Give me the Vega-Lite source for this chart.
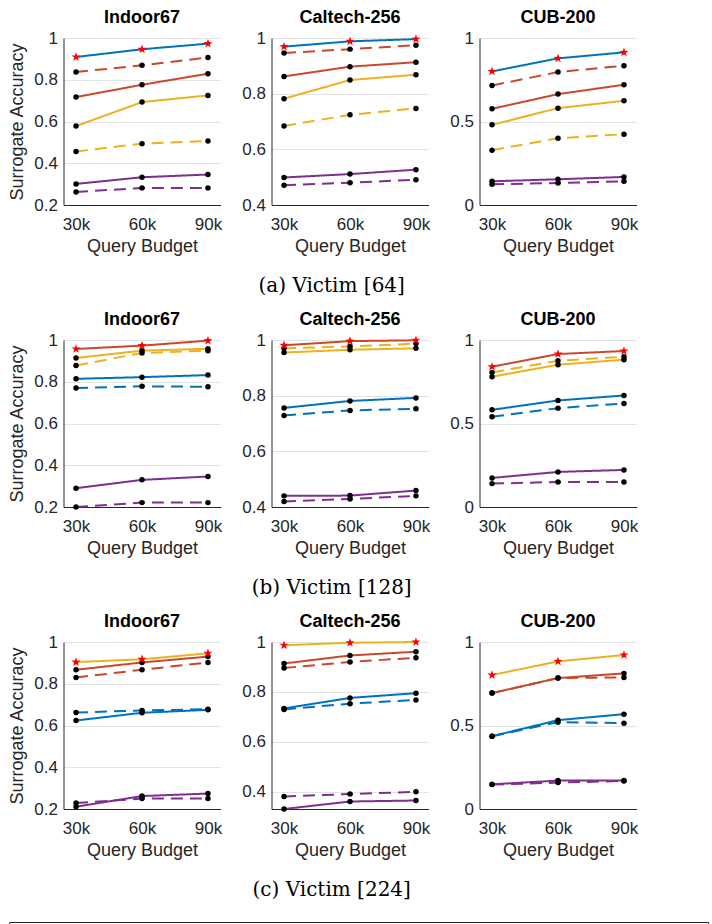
{
  "$schema": "https://vega.github.io/schema/vega-lite/v6.json",
  "background": "white",
  "padding": {"left": 8, "top": 9, "right": 5, "bottom": 0},
  "config": {
    "view": {"stroke": null},
    "font": "Liberation Sans",
    "title": {"font": "Liberation Sans", "fontSize": 18, "fontWeight": "bold", "color": "#000000", "offset": 2, "frame": "group"},
    "axis": {"labelFont": "Liberation Sans", "labelFontSize": 17, "labelColor": "#262626", "titleFont": "Liberation Sans", "titleFontSize": 18, "titleFontWeight": "normal", "titleColor": "#262626", "domainColor": "#262626", "domainWidth": 1, "ticks": false, "gridColor": "#E3E3E3", "gridWidth": 1},
    "axisX": {"grid": false, "labelAngle": 0, "labelPadding": 11, "titlePadding": 5},
    "axisY": {"grid": true, "labelPadding": 6, "titlePadding": 7}
  },
  "datasets": {
    "legendItems": [{"series": "Surrogate [32]"}, {"series": "Surrogate [64]"}, {"series": "Surrogate [128]"}, {"series": "Surrogate [224]"}],
    "acc": [
      {"victim": "64", "dataset": "Indoor67", "series": "Surrogate [64]", "line": "solid", "budget": "30k", "accuracy": 0.909},
      {"victim": "64", "dataset": "Indoor67", "series": "Surrogate [64]", "line": "solid", "budget": "60k", "accuracy": 0.946},
      {"victim": "64", "dataset": "Indoor67", "series": "Surrogate [64]", "line": "solid", "budget": "90k", "accuracy": 0.973},
      {"victim": "64", "dataset": "Indoor67", "series": "Surrogate [128]", "line": "dashed", "budget": "30k", "accuracy": 0.837},
      {"victim": "64", "dataset": "Indoor67", "series": "Surrogate [128]", "line": "dashed", "budget": "60k", "accuracy": 0.869},
      {"victim": "64", "dataset": "Indoor67", "series": "Surrogate [128]", "line": "dashed", "budget": "90k", "accuracy": 0.907},
      {"victim": "64", "dataset": "Indoor67", "series": "Surrogate [128]", "line": "solid", "budget": "30k", "accuracy": 0.717},
      {"victim": "64", "dataset": "Indoor67", "series": "Surrogate [128]", "line": "solid", "budget": "60k", "accuracy": 0.776},
      {"victim": "64", "dataset": "Indoor67", "series": "Surrogate [128]", "line": "solid", "budget": "90k", "accuracy": 0.829},
      {"victim": "64", "dataset": "Indoor67", "series": "Surrogate [224]", "line": "solid", "budget": "30k", "accuracy": 0.578},
      {"victim": "64", "dataset": "Indoor67", "series": "Surrogate [224]", "line": "solid", "budget": "60k", "accuracy": 0.693},
      {"victim": "64", "dataset": "Indoor67", "series": "Surrogate [224]", "line": "solid", "budget": "90k", "accuracy": 0.725},
      {"victim": "64", "dataset": "Indoor67", "series": "Surrogate [224]", "line": "dashed", "budget": "30k", "accuracy": 0.456},
      {"victim": "64", "dataset": "Indoor67", "series": "Surrogate [224]", "line": "dashed", "budget": "60k", "accuracy": 0.494},
      {"victim": "64", "dataset": "Indoor67", "series": "Surrogate [224]", "line": "dashed", "budget": "90k", "accuracy": 0.507},
      {"victim": "64", "dataset": "Indoor67", "series": "Surrogate [32]", "line": "solid", "budget": "30k", "accuracy": 0.301},
      {"victim": "64", "dataset": "Indoor67", "series": "Surrogate [32]", "line": "solid", "budget": "60k", "accuracy": 0.333},
      {"victim": "64", "dataset": "Indoor67", "series": "Surrogate [32]", "line": "solid", "budget": "90k", "accuracy": 0.346},
      {"victim": "64", "dataset": "Indoor67", "series": "Surrogate [32]", "line": "dashed", "budget": "30k", "accuracy": 0.262},
      {"victim": "64", "dataset": "Indoor67", "series": "Surrogate [32]", "line": "dashed", "budget": "60k", "accuracy": 0.282},
      {"victim": "64", "dataset": "Indoor67", "series": "Surrogate [32]", "line": "dashed", "budget": "90k", "accuracy": 0.282},
      {"victim": "64", "dataset": "Caltech-256", "series": "Surrogate [64]", "line": "solid", "budget": "30k", "accuracy": 0.969},
      {"victim": "64", "dataset": "Caltech-256", "series": "Surrogate [64]", "line": "solid", "budget": "60k", "accuracy": 0.988},
      {"victim": "64", "dataset": "Caltech-256", "series": "Surrogate [64]", "line": "solid", "budget": "90k", "accuracy": 0.996},
      {"victim": "64", "dataset": "Caltech-256", "series": "Surrogate [128]", "line": "dashed", "budget": "30k", "accuracy": 0.946},
      {"victim": "64", "dataset": "Caltech-256", "series": "Surrogate [128]", "line": "dashed", "budget": "60k", "accuracy": 0.960},
      {"victim": "64", "dataset": "Caltech-256", "series": "Surrogate [128]", "line": "dashed", "budget": "90k", "accuracy": 0.974},
      {"victim": "64", "dataset": "Caltech-256", "series": "Surrogate [128]", "line": "solid", "budget": "30k", "accuracy": 0.862},
      {"victim": "64", "dataset": "Caltech-256", "series": "Surrogate [128]", "line": "solid", "budget": "60k", "accuracy": 0.897},
      {"victim": "64", "dataset": "Caltech-256", "series": "Surrogate [128]", "line": "solid", "budget": "90k", "accuracy": 0.913},
      {"victim": "64", "dataset": "Caltech-256", "series": "Surrogate [224]", "line": "solid", "budget": "30k", "accuracy": 0.782},
      {"victim": "64", "dataset": "Caltech-256", "series": "Surrogate [224]", "line": "solid", "budget": "60k", "accuracy": 0.849},
      {"victim": "64", "dataset": "Caltech-256", "series": "Surrogate [224]", "line": "solid", "budget": "90k", "accuracy": 0.868},
      {"victim": "64", "dataset": "Caltech-256", "series": "Surrogate [224]", "line": "dashed", "budget": "30k", "accuracy": 0.684},
      {"victim": "64", "dataset": "Caltech-256", "series": "Surrogate [224]", "line": "dashed", "budget": "60k", "accuracy": 0.724},
      {"victim": "64", "dataset": "Caltech-256", "series": "Surrogate [224]", "line": "dashed", "budget": "90k", "accuracy": 0.747},
      {"victim": "64", "dataset": "Caltech-256", "series": "Surrogate [32]", "line": "solid", "budget": "30k", "accuracy": 0.499},
      {"victim": "64", "dataset": "Caltech-256", "series": "Surrogate [32]", "line": "solid", "budget": "60k", "accuracy": 0.511},
      {"victim": "64", "dataset": "Caltech-256", "series": "Surrogate [32]", "line": "solid", "budget": "90k", "accuracy": 0.527},
      {"victim": "64", "dataset": "Caltech-256", "series": "Surrogate [32]", "line": "dashed", "budget": "30k", "accuracy": 0.471},
      {"victim": "64", "dataset": "Caltech-256", "series": "Surrogate [32]", "line": "dashed", "budget": "60k", "accuracy": 0.480},
      {"victim": "64", "dataset": "Caltech-256", "series": "Surrogate [32]", "line": "dashed", "budget": "90k", "accuracy": 0.491},
      {"victim": "64", "dataset": "CUB-200", "series": "Surrogate [64]", "line": "solid", "budget": "30k", "accuracy": 0.800},
      {"victim": "64", "dataset": "CUB-200", "series": "Surrogate [64]", "line": "solid", "budget": "60k", "accuracy": 0.878},
      {"victim": "64", "dataset": "CUB-200", "series": "Surrogate [64]", "line": "solid", "budget": "90k", "accuracy": 0.914},
      {"victim": "64", "dataset": "CUB-200", "series": "Surrogate [128]", "line": "dashed", "budget": "30k", "accuracy": 0.716},
      {"victim": "64", "dataset": "CUB-200", "series": "Surrogate [128]", "line": "dashed", "budget": "60k", "accuracy": 0.796},
      {"victim": "64", "dataset": "CUB-200", "series": "Surrogate [128]", "line": "dashed", "budget": "90k", "accuracy": 0.834},
      {"victim": "64", "dataset": "CUB-200", "series": "Surrogate [128]", "line": "solid", "budget": "30k", "accuracy": 0.576},
      {"victim": "64", "dataset": "CUB-200", "series": "Surrogate [128]", "line": "solid", "budget": "60k", "accuracy": 0.664},
      {"victim": "64", "dataset": "CUB-200", "series": "Surrogate [128]", "line": "solid", "budget": "90k", "accuracy": 0.720},
      {"victim": "64", "dataset": "CUB-200", "series": "Surrogate [224]", "line": "solid", "budget": "30k", "accuracy": 0.480},
      {"victim": "64", "dataset": "CUB-200", "series": "Surrogate [224]", "line": "solid", "budget": "60k", "accuracy": 0.580},
      {"victim": "64", "dataset": "CUB-200", "series": "Surrogate [224]", "line": "solid", "budget": "90k", "accuracy": 0.624},
      {"victim": "64", "dataset": "CUB-200", "series": "Surrogate [224]", "line": "dashed", "budget": "30k", "accuracy": 0.328},
      {"victim": "64", "dataset": "CUB-200", "series": "Surrogate [224]", "line": "dashed", "budget": "60k", "accuracy": 0.400},
      {"victim": "64", "dataset": "CUB-200", "series": "Surrogate [224]", "line": "dashed", "budget": "90k", "accuracy": 0.424},
      {"victim": "64", "dataset": "CUB-200", "series": "Surrogate [32]", "line": "solid", "budget": "30k", "accuracy": 0.142},
      {"victim": "64", "dataset": "CUB-200", "series": "Surrogate [32]", "line": "solid", "budget": "60k", "accuracy": 0.154},
      {"victim": "64", "dataset": "CUB-200", "series": "Surrogate [32]", "line": "solid", "budget": "90k", "accuracy": 0.168},
      {"victim": "64", "dataset": "CUB-200", "series": "Surrogate [32]", "line": "dashed", "budget": "30k", "accuracy": 0.124},
      {"victim": "64", "dataset": "CUB-200", "series": "Surrogate [32]", "line": "dashed", "budget": "60k", "accuracy": 0.132},
      {"victim": "64", "dataset": "CUB-200", "series": "Surrogate [32]", "line": "dashed", "budget": "90k", "accuracy": 0.142},
      {"victim": "128", "dataset": "Indoor67", "series": "Surrogate [128]", "line": "solid", "budget": "30k", "accuracy": 0.957},
      {"victim": "128", "dataset": "Indoor67", "series": "Surrogate [128]", "line": "solid", "budget": "60k", "accuracy": 0.973},
      {"victim": "128", "dataset": "Indoor67", "series": "Surrogate [128]", "line": "solid", "budget": "90k", "accuracy": 0.997},
      {"victim": "128", "dataset": "Indoor67", "series": "Surrogate [224]", "line": "solid", "budget": "30k", "accuracy": 0.914},
      {"victim": "128", "dataset": "Indoor67", "series": "Surrogate [224]", "line": "solid", "budget": "60k", "accuracy": 0.949},
      {"victim": "128", "dataset": "Indoor67", "series": "Surrogate [224]", "line": "solid", "budget": "90k", "accuracy": 0.958},
      {"victim": "128", "dataset": "Indoor67", "series": "Surrogate [224]", "line": "dashed", "budget": "30k", "accuracy": 0.878},
      {"victim": "128", "dataset": "Indoor67", "series": "Surrogate [224]", "line": "dashed", "budget": "60k", "accuracy": 0.938},
      {"victim": "128", "dataset": "Indoor67", "series": "Surrogate [224]", "line": "dashed", "budget": "90k", "accuracy": 0.949},
      {"victim": "128", "dataset": "Indoor67", "series": "Surrogate [64]", "line": "solid", "budget": "30k", "accuracy": 0.814},
      {"victim": "128", "dataset": "Indoor67", "series": "Surrogate [64]", "line": "solid", "budget": "60k", "accuracy": 0.822},
      {"victim": "128", "dataset": "Indoor67", "series": "Surrogate [64]", "line": "solid", "budget": "90k", "accuracy": 0.832},
      {"victim": "128", "dataset": "Indoor67", "series": "Surrogate [64]", "line": "dashed", "budget": "30k", "accuracy": 0.770},
      {"victim": "128", "dataset": "Indoor67", "series": "Surrogate [64]", "line": "dashed", "budget": "60k", "accuracy": 0.778},
      {"victim": "128", "dataset": "Indoor67", "series": "Surrogate [64]", "line": "dashed", "budget": "90k", "accuracy": 0.776},
      {"victim": "128", "dataset": "Indoor67", "series": "Surrogate [32]", "line": "solid", "budget": "30k", "accuracy": 0.290},
      {"victim": "128", "dataset": "Indoor67", "series": "Surrogate [32]", "line": "solid", "budget": "60k", "accuracy": 0.330},
      {"victim": "128", "dataset": "Indoor67", "series": "Surrogate [32]", "line": "solid", "budget": "90k", "accuracy": 0.346},
      {"victim": "128", "dataset": "Indoor67", "series": "Surrogate [32]", "line": "dashed", "budget": "30k", "accuracy": 0.200},
      {"victim": "128", "dataset": "Indoor67", "series": "Surrogate [32]", "line": "dashed", "budget": "60k", "accuracy": 0.221},
      {"victim": "128", "dataset": "Indoor67", "series": "Surrogate [32]", "line": "dashed", "budget": "90k", "accuracy": 0.221},
      {"victim": "128", "dataset": "Caltech-256", "series": "Surrogate [128]", "line": "solid", "budget": "30k", "accuracy": 0.981},
      {"victim": "128", "dataset": "Caltech-256", "series": "Surrogate [128]", "line": "solid", "budget": "60k", "accuracy": 0.996},
      {"victim": "128", "dataset": "Caltech-256", "series": "Surrogate [128]", "line": "solid", "budget": "90k", "accuracy": 0.999},
      {"victim": "128", "dataset": "Caltech-256", "series": "Surrogate [224]", "line": "dashed", "budget": "30k", "accuracy": 0.970},
      {"victim": "128", "dataset": "Caltech-256", "series": "Surrogate [224]", "line": "dashed", "budget": "60k", "accuracy": 0.977},
      {"victim": "128", "dataset": "Caltech-256", "series": "Surrogate [224]", "line": "dashed", "budget": "90k", "accuracy": 0.987},
      {"victim": "128", "dataset": "Caltech-256", "series": "Surrogate [224]", "line": "solid", "budget": "30k", "accuracy": 0.955},
      {"victim": "128", "dataset": "Caltech-256", "series": "Surrogate [224]", "line": "solid", "budget": "60k", "accuracy": 0.965},
      {"victim": "128", "dataset": "Caltech-256", "series": "Surrogate [224]", "line": "solid", "budget": "90k", "accuracy": 0.970},
      {"victim": "128", "dataset": "Caltech-256", "series": "Surrogate [64]", "line": "solid", "budget": "30k", "accuracy": 0.756},
      {"victim": "128", "dataset": "Caltech-256", "series": "Surrogate [64]", "line": "solid", "budget": "60k", "accuracy": 0.781},
      {"victim": "128", "dataset": "Caltech-256", "series": "Surrogate [64]", "line": "solid", "budget": "90k", "accuracy": 0.792},
      {"victim": "128", "dataset": "Caltech-256", "series": "Surrogate [64]", "line": "dashed", "budget": "30k", "accuracy": 0.729},
      {"victim": "128", "dataset": "Caltech-256", "series": "Surrogate [64]", "line": "dashed", "budget": "60k", "accuracy": 0.747},
      {"victim": "128", "dataset": "Caltech-256", "series": "Surrogate [64]", "line": "dashed", "budget": "90k", "accuracy": 0.753},
      {"victim": "128", "dataset": "Caltech-256", "series": "Surrogate [32]", "line": "solid", "budget": "30k", "accuracy": 0.440},
      {"victim": "128", "dataset": "Caltech-256", "series": "Surrogate [32]", "line": "solid", "budget": "60k", "accuracy": 0.441},
      {"victim": "128", "dataset": "Caltech-256", "series": "Surrogate [32]", "line": "solid", "budget": "90k", "accuracy": 0.459},
      {"victim": "128", "dataset": "Caltech-256", "series": "Surrogate [32]", "line": "dashed", "budget": "30k", "accuracy": 0.420},
      {"victim": "128", "dataset": "Caltech-256", "series": "Surrogate [32]", "line": "dashed", "budget": "60k", "accuracy": 0.429},
      {"victim": "128", "dataset": "Caltech-256", "series": "Surrogate [32]", "line": "dashed", "budget": "90k", "accuracy": 0.440},
      {"victim": "128", "dataset": "CUB-200", "series": "Surrogate [128]", "line": "solid", "budget": "30k", "accuracy": 0.840},
      {"victim": "128", "dataset": "CUB-200", "series": "Surrogate [128]", "line": "solid", "budget": "60k", "accuracy": 0.916},
      {"victim": "128", "dataset": "CUB-200", "series": "Surrogate [128]", "line": "solid", "budget": "90k", "accuracy": 0.934},
      {"victim": "128", "dataset": "CUB-200", "series": "Surrogate [224]", "line": "dashed", "budget": "30k", "accuracy": 0.806},
      {"victim": "128", "dataset": "CUB-200", "series": "Surrogate [224]", "line": "dashed", "budget": "60k", "accuracy": 0.876},
      {"victim": "128", "dataset": "CUB-200", "series": "Surrogate [224]", "line": "dashed", "budget": "90k", "accuracy": 0.900},
      {"victim": "128", "dataset": "CUB-200", "series": "Surrogate [224]", "line": "solid", "budget": "30k", "accuracy": 0.780},
      {"victim": "128", "dataset": "CUB-200", "series": "Surrogate [224]", "line": "solid", "budget": "60k", "accuracy": 0.852},
      {"victim": "128", "dataset": "CUB-200", "series": "Surrogate [224]", "line": "solid", "budget": "90k", "accuracy": 0.882},
      {"victim": "128", "dataset": "CUB-200", "series": "Surrogate [64]", "line": "solid", "budget": "30k", "accuracy": 0.582},
      {"victim": "128", "dataset": "CUB-200", "series": "Surrogate [64]", "line": "solid", "budget": "60k", "accuracy": 0.638},
      {"victim": "128", "dataset": "CUB-200", "series": "Surrogate [64]", "line": "solid", "budget": "90k", "accuracy": 0.668},
      {"victim": "128", "dataset": "CUB-200", "series": "Surrogate [64]", "line": "dashed", "budget": "30k", "accuracy": 0.540},
      {"victim": "128", "dataset": "CUB-200", "series": "Surrogate [64]", "line": "dashed", "budget": "60k", "accuracy": 0.592},
      {"victim": "128", "dataset": "CUB-200", "series": "Surrogate [64]", "line": "dashed", "budget": "90k", "accuracy": 0.620},
      {"victim": "128", "dataset": "CUB-200", "series": "Surrogate [32]", "line": "solid", "budget": "30k", "accuracy": 0.174},
      {"victim": "128", "dataset": "CUB-200", "series": "Surrogate [32]", "line": "solid", "budget": "60k", "accuracy": 0.210},
      {"victim": "128", "dataset": "CUB-200", "series": "Surrogate [32]", "line": "solid", "budget": "90k", "accuracy": 0.222},
      {"victim": "128", "dataset": "CUB-200", "series": "Surrogate [32]", "line": "dashed", "budget": "30k", "accuracy": 0.140},
      {"victim": "128", "dataset": "CUB-200", "series": "Surrogate [32]", "line": "dashed", "budget": "60k", "accuracy": 0.150},
      {"victim": "128", "dataset": "CUB-200", "series": "Surrogate [32]", "line": "dashed", "budget": "90k", "accuracy": 0.150},
      {"victim": "224", "dataset": "Indoor67", "series": "Surrogate [224]", "line": "solid", "budget": "30k", "accuracy": 0.904},
      {"victim": "224", "dataset": "Indoor67", "series": "Surrogate [224]", "line": "solid", "budget": "60k", "accuracy": 0.917},
      {"victim": "224", "dataset": "Indoor67", "series": "Surrogate [224]", "line": "solid", "budget": "90k", "accuracy": 0.946},
      {"victim": "224", "dataset": "Indoor67", "series": "Surrogate [128]", "line": "solid", "budget": "30k", "accuracy": 0.867},
      {"victim": "224", "dataset": "Indoor67", "series": "Surrogate [128]", "line": "solid", "budget": "60k", "accuracy": 0.902},
      {"victim": "224", "dataset": "Indoor67", "series": "Surrogate [128]", "line": "solid", "budget": "90k", "accuracy": 0.930},
      {"victim": "224", "dataset": "Indoor67", "series": "Surrogate [128]", "line": "dashed", "budget": "30k", "accuracy": 0.830},
      {"victim": "224", "dataset": "Indoor67", "series": "Surrogate [128]", "line": "dashed", "budget": "60k", "accuracy": 0.867},
      {"victim": "224", "dataset": "Indoor67", "series": "Surrogate [128]", "line": "dashed", "budget": "90k", "accuracy": 0.902},
      {"victim": "224", "dataset": "Indoor67", "series": "Surrogate [64]", "line": "dashed", "budget": "30k", "accuracy": 0.662},
      {"victim": "224", "dataset": "Indoor67", "series": "Surrogate [64]", "line": "dashed", "budget": "60k", "accuracy": 0.672},
      {"victim": "224", "dataset": "Indoor67", "series": "Surrogate [64]", "line": "dashed", "budget": "90k", "accuracy": 0.678},
      {"victim": "224", "dataset": "Indoor67", "series": "Surrogate [64]", "line": "solid", "budget": "30k", "accuracy": 0.624},
      {"victim": "224", "dataset": "Indoor67", "series": "Surrogate [64]", "line": "solid", "budget": "60k", "accuracy": 0.661},
      {"victim": "224", "dataset": "Indoor67", "series": "Surrogate [64]", "line": "solid", "budget": "90k", "accuracy": 0.675},
      {"victim": "224", "dataset": "Indoor67", "series": "Surrogate [32]", "line": "solid", "budget": "30k", "accuracy": 0.211},
      {"victim": "224", "dataset": "Indoor67", "series": "Surrogate [32]", "line": "solid", "budget": "60k", "accuracy": 0.262},
      {"victim": "224", "dataset": "Indoor67", "series": "Surrogate [32]", "line": "solid", "budget": "90k", "accuracy": 0.274},
      {"victim": "224", "dataset": "Indoor67", "series": "Surrogate [32]", "line": "dashed", "budget": "30k", "accuracy": 0.229},
      {"victim": "224", "dataset": "Indoor67", "series": "Surrogate [32]", "line": "dashed", "budget": "60k", "accuracy": 0.250},
      {"victim": "224", "dataset": "Indoor67", "series": "Surrogate [32]", "line": "dashed", "budget": "90k", "accuracy": 0.250},
      {"victim": "224", "dataset": "Caltech-256", "series": "Surrogate [224]", "line": "solid", "budget": "30k", "accuracy": 0.987},
      {"victim": "224", "dataset": "Caltech-256", "series": "Surrogate [224]", "line": "solid", "budget": "60k", "accuracy": 0.997},
      {"victim": "224", "dataset": "Caltech-256", "series": "Surrogate [224]", "line": "solid", "budget": "90k", "accuracy": 1.0},
      {"victim": "224", "dataset": "Caltech-256", "series": "Surrogate [128]", "line": "solid", "budget": "30k", "accuracy": 0.914},
      {"victim": "224", "dataset": "Caltech-256", "series": "Surrogate [128]", "line": "solid", "budget": "60k", "accuracy": 0.946},
      {"victim": "224", "dataset": "Caltech-256", "series": "Surrogate [128]", "line": "solid", "budget": "90k", "accuracy": 0.961},
      {"victim": "224", "dataset": "Caltech-256", "series": "Surrogate [128]", "line": "dashed", "budget": "30k", "accuracy": 0.896},
      {"victim": "224", "dataset": "Caltech-256", "series": "Surrogate [128]", "line": "dashed", "budget": "60k", "accuracy": 0.920},
      {"victim": "224", "dataset": "Caltech-256", "series": "Surrogate [128]", "line": "dashed", "budget": "90k", "accuracy": 0.937},
      {"victim": "224", "dataset": "Caltech-256", "series": "Surrogate [64]", "line": "solid", "budget": "30k", "accuracy": 0.734},
      {"victim": "224", "dataset": "Caltech-256", "series": "Surrogate [64]", "line": "solid", "budget": "60k", "accuracy": 0.776},
      {"victim": "224", "dataset": "Caltech-256", "series": "Surrogate [64]", "line": "solid", "budget": "90k", "accuracy": 0.795},
      {"victim": "224", "dataset": "Caltech-256", "series": "Surrogate [64]", "line": "dashed", "budget": "30k", "accuracy": 0.730},
      {"victim": "224", "dataset": "Caltech-256", "series": "Surrogate [64]", "line": "dashed", "budget": "60k", "accuracy": 0.753},
      {"victim": "224", "dataset": "Caltech-256", "series": "Surrogate [64]", "line": "dashed", "budget": "90k", "accuracy": 0.768},
      {"victim": "224", "dataset": "Caltech-256", "series": "Surrogate [32]", "line": "dashed", "budget": "30k", "accuracy": 0.381},
      {"victim": "224", "dataset": "Caltech-256", "series": "Surrogate [32]", "line": "dashed", "budget": "60k", "accuracy": 0.391},
      {"victim": "224", "dataset": "Caltech-256", "series": "Surrogate [32]", "line": "dashed", "budget": "90k", "accuracy": 0.400},
      {"victim": "224", "dataset": "Caltech-256", "series": "Surrogate [32]", "line": "solid", "budget": "30k", "accuracy": 0.331},
      {"victim": "224", "dataset": "Caltech-256", "series": "Surrogate [32]", "line": "solid", "budget": "60k", "accuracy": 0.361},
      {"victim": "224", "dataset": "Caltech-256", "series": "Surrogate [32]", "line": "solid", "budget": "90k", "accuracy": 0.365},
      {"victim": "224", "dataset": "CUB-200", "series": "Surrogate [224]", "line": "solid", "budget": "30k", "accuracy": 0.802},
      {"victim": "224", "dataset": "CUB-200", "series": "Surrogate [224]", "line": "solid", "budget": "60k", "accuracy": 0.884},
      {"victim": "224", "dataset": "CUB-200", "series": "Surrogate [224]", "line": "solid", "budget": "90k", "accuracy": 0.922},
      {"victim": "224", "dataset": "CUB-200", "series": "Surrogate [128]", "line": "solid", "budget": "30k", "accuracy": 0.694},
      {"victim": "224", "dataset": "CUB-200", "series": "Surrogate [128]", "line": "solid", "budget": "60k", "accuracy": 0.784},
      {"victim": "224", "dataset": "CUB-200", "series": "Surrogate [128]", "line": "solid", "budget": "90k", "accuracy": 0.812},
      {"victim": "224", "dataset": "CUB-200", "series": "Surrogate [128]", "line": "dashed", "budget": "30k", "accuracy": 0.694},
      {"victim": "224", "dataset": "CUB-200", "series": "Surrogate [128]", "line": "dashed", "budget": "60k", "accuracy": 0.784},
      {"victim": "224", "dataset": "CUB-200", "series": "Surrogate [128]", "line": "dashed", "budget": "90k", "accuracy": 0.788},
      {"victim": "224", "dataset": "CUB-200", "series": "Surrogate [64]", "line": "solid", "budget": "30k", "accuracy": 0.436},
      {"victim": "224", "dataset": "CUB-200", "series": "Surrogate [64]", "line": "solid", "budget": "60k", "accuracy": 0.532},
      {"victim": "224", "dataset": "CUB-200", "series": "Surrogate [64]", "line": "solid", "budget": "90k", "accuracy": 0.568},
      {"victim": "224", "dataset": "CUB-200", "series": "Surrogate [64]", "line": "dashed", "budget": "30k", "accuracy": 0.436},
      {"victim": "224", "dataset": "CUB-200", "series": "Surrogate [64]", "line": "dashed", "budget": "60k", "accuracy": 0.520},
      {"victim": "224", "dataset": "CUB-200", "series": "Surrogate [64]", "line": "dashed", "budget": "90k", "accuracy": 0.514},
      {"victim": "224", "dataset": "CUB-200", "series": "Surrogate [32]", "line": "solid", "budget": "30k", "accuracy": 0.148},
      {"victim": "224", "dataset": "CUB-200", "series": "Surrogate [32]", "line": "solid", "budget": "60k", "accuracy": 0.170},
      {"victim": "224", "dataset": "CUB-200", "series": "Surrogate [32]", "line": "solid", "budget": "90k", "accuracy": 0.170},
      {"victim": "224", "dataset": "CUB-200", "series": "Surrogate [32]", "line": "dashed", "budget": "30k", "accuracy": 0.146},
      {"victim": "224", "dataset": "CUB-200", "series": "Surrogate [32]", "line": "dashed", "budget": "60k", "accuracy": 0.158},
      {"victim": "224", "dataset": "CUB-200", "series": "Surrogate [32]", "line": "dashed", "budget": "90k", "accuracy": 0.168}
    ]
  },
  "vconcat": [
    {
      "title": {"text": "(a) Victim [64]", "orient": "bottom", "anchor": "middle", "frame": "bounds", "font": "DejaVu Serif", "fontSize": 20, "fontWeight": "normal", "color": "#000000", "offset": 21},
      "spacing": 19,
      "hconcat": [
        {"width": 157, "height": 167, "title": "Indoor67", "data": {"name": "acc"},
         "transform": [{"filter": "datum.victim=='64' && datum.dataset=='Indoor67'"}],
         "encoding": {
           "x": {"field": "budget", "type": "ordinal", "scale": {"type": "point", "padding": 0.19}, "axis": {"title": "Query Budget"}},
           "y": {"field": "accuracy", "type": "quantitative", "scale": {"domain": [0.2, 1], "nice": false, "zero": false}, "axis": {"values": [0.2, 0.4, 0.6, 0.8, 1], "format": "~g", "title": "Surrogate Accuracy"}}},
         "layer": [
           {"mark": {"type": "line", "strokeWidth": 2}, "encoding": {"color": {"field": "series", "type": "nominal", "scale": {"domain": ["Surrogate [32]", "Surrogate [64]", "Surrogate [128]", "Surrogate [224]"], "range": ["#7E2F8E", "#0072BD", "#C9482C", "#EDB120"]}, "legend": null}, "strokeDash": {"field": "line", "type": "nominal", "scale": {"domain": ["solid", "dashed"], "range": [[1, 0], [12, 7]]}, "legend": null}}},
           {"transform": [{"filter": "datum.series!='Surrogate [64]'"}], "mark": {"type": "point", "shape": "circle", "filled": true, "color": "#000000", "size": 30, "opacity": 1}, "encoding": {}},
           {"transform": [{"filter": "datum.series=='Surrogate [64]'"}], "mark": {"type": "point", "shape": "M0,-1L0.235,-0.324L0.951,-0.309L0.38,0.124L0.588,0.809L0,0.4L-0.588,0.809L-0.38,0.124L-0.951,-0.309L-0.235,-0.324Z", "filled": true, "color": "#FF0000", "size": 90, "opacity": 1}, "encoding": {}}
         ]},
        {"width": 157, "height": 167, "title": "Caltech-256", "data": {"name": "acc"},
         "transform": [{"filter": "datum.victim=='64' && datum.dataset=='Caltech-256'"}],
         "encoding": {
           "x": {"field": "budget", "type": "ordinal", "scale": {"type": "point", "padding": 0.19}, "axis": {"title": "Query Budget"}},
           "y": {"field": "accuracy", "type": "quantitative", "scale": {"domain": [0.4, 1], "nice": false, "zero": false}, "axis": {"values": [0.4, 0.6, 0.8, 1], "format": "~g", "title": null}}},
         "layer": [
           {"mark": {"type": "line", "strokeWidth": 2}, "encoding": {"color": {"field": "series", "type": "nominal", "scale": {"domain": ["Surrogate [32]", "Surrogate [64]", "Surrogate [128]", "Surrogate [224]"], "range": ["#7E2F8E", "#0072BD", "#C9482C", "#EDB120"]}, "legend": null}, "strokeDash": {"field": "line", "type": "nominal", "scale": {"domain": ["solid", "dashed"], "range": [[1, 0], [12, 7]]}, "legend": null}}},
           {"transform": [{"filter": "datum.series!='Surrogate [64]'"}], "mark": {"type": "point", "shape": "circle", "filled": true, "color": "#000000", "size": 30, "opacity": 1}, "encoding": {}},
           {"transform": [{"filter": "datum.series=='Surrogate [64]'"}], "mark": {"type": "point", "shape": "M0,-1L0.235,-0.324L0.951,-0.309L0.38,0.124L0.588,0.809L0,0.4L-0.588,0.809L-0.38,0.124L-0.951,-0.309L-0.235,-0.324Z", "filled": true, "color": "#FF0000", "size": 90, "opacity": 1}, "encoding": {}}
         ]},
        {"width": 157, "height": 167, "title": "CUB-200", "data": {"name": "acc"},
         "transform": [{"filter": "datum.victim=='64' && datum.dataset=='CUB-200'"}],
         "encoding": {
           "x": {"field": "budget", "type": "ordinal", "scale": {"type": "point", "padding": 0.19}, "axis": {"title": "Query Budget"}}},
         "resolve": {"axis": {"y": "independent"}},
         "layer": [
           {"mark": {"type": "line", "strokeWidth": 2}, "encoding": {
             "y": {"field": "accuracy", "type": "quantitative", "scale": {"domain": [0, 1], "nice": false, "zero": false}, "axis": {"values": [0, 0.5, 1], "format": "~g", "title": null}},
             "color": {"field": "series", "type": "nominal", "scale": {"domain": ["Surrogate [32]", "Surrogate [64]", "Surrogate [128]", "Surrogate [224]"], "range": ["#7E2F8E", "#0072BD", "#C9482C", "#EDB120"]}, "legend": null}, "strokeDash": {"field": "line", "type": "nominal", "scale": {"domain": ["solid", "dashed"], "range": [[1, 0], [12, 7]]}, "legend": null}}},
           {"transform": [{"filter": "datum.series!='Surrogate [64]'"}], "mark": {"type": "point", "shape": "circle", "filled": true, "color": "#000000", "size": 30, "opacity": 1},
            "encoding": {"y": {"field": "accuracy", "type": "quantitative", "scale": {"domain": [0, 1], "nice": false, "zero": false}, "axis": null}}},
           {"transform": [{"filter": "datum.series=='Surrogate [64]'"}], "mark": {"type": "point", "shape": "M0,-1L0.235,-0.324L0.951,-0.309L0.38,0.124L0.588,0.809L0,0.4L-0.588,0.809L-0.38,0.124L-0.951,-0.309L-0.235,-0.324Z", "filled": true, "color": "#FF0000", "size": 90, "opacity": 1},
            "encoding": {"y": {"field": "accuracy", "type": "quantitative", "scale": {"domain": [0, 1], "nice": false, "zero": false}, "axis": {"orient": "right", "labels": false, "domain": false, "grid": false, "ticks": true, "tickSize": 18, "tickOpacity": 0, "title": null}}}}
         ]}
      ]
    },
    {
      "title": {"text": "(b) Victim [128]", "orient": "bottom", "anchor": "middle", "frame": "bounds", "font": "DejaVu Serif", "fontSize": 20, "fontWeight": "normal", "color": "#000000", "offset": 21},
      "spacing": 19,
      "hconcat": [
        {"width": 157, "height": 167, "title": "Indoor67", "data": {"name": "acc"},
         "transform": [{"filter": "datum.victim=='128' && datum.dataset=='Indoor67'"}],
         "encoding": {
           "x": {"field": "budget", "type": "ordinal", "scale": {"type": "point", "padding": 0.19}, "axis": {"title": "Query Budget"}},
           "y": {"field": "accuracy", "type": "quantitative", "scale": {"domain": [0.2, 1], "nice": false, "zero": false}, "axis": {"values": [0.2, 0.4, 0.6, 0.8, 1], "format": "~g", "title": "Surrogate Accuracy"}}},
         "layer": [
           {"mark": {"type": "line", "strokeWidth": 2}, "encoding": {"color": {"field": "series", "type": "nominal", "scale": {"domain": ["Surrogate [32]", "Surrogate [64]", "Surrogate [128]", "Surrogate [224]"], "range": ["#7E2F8E", "#0072BD", "#C9482C", "#EDB120"]}, "legend": null}, "strokeDash": {"field": "line", "type": "nominal", "scale": {"domain": ["solid", "dashed"], "range": [[1, 0], [12, 7]]}, "legend": null}}},
           {"transform": [{"filter": "datum.series!='Surrogate [128]'"}], "mark": {"type": "point", "shape": "circle", "filled": true, "color": "#000000", "size": 30, "opacity": 1}, "encoding": {}},
           {"transform": [{"filter": "datum.series=='Surrogate [128]'"}], "mark": {"type": "point", "shape": "M0,-1L0.235,-0.324L0.951,-0.309L0.38,0.124L0.588,0.809L0,0.4L-0.588,0.809L-0.38,0.124L-0.951,-0.309L-0.235,-0.324Z", "filled": true, "color": "#FF0000", "size": 90, "opacity": 1}, "encoding": {}}
         ]},
        {"width": 157, "height": 167, "title": "Caltech-256", "data": {"name": "acc"},
         "transform": [{"filter": "datum.victim=='128' && datum.dataset=='Caltech-256'"}],
         "encoding": {
           "x": {"field": "budget", "type": "ordinal", "scale": {"type": "point", "padding": 0.19}, "axis": {"title": "Query Budget"}},
           "y": {"field": "accuracy", "type": "quantitative", "scale": {"domain": [0.4, 1], "nice": false, "zero": false}, "axis": {"values": [0.4, 0.6, 0.8, 1], "format": "~g", "title": null}}},
         "layer": [
           {"mark": {"type": "line", "strokeWidth": 2}, "encoding": {"color": {"field": "series", "type": "nominal", "scale": {"domain": ["Surrogate [32]", "Surrogate [64]", "Surrogate [128]", "Surrogate [224]"], "range": ["#7E2F8E", "#0072BD", "#C9482C", "#EDB120"]}, "legend": null}, "strokeDash": {"field": "line", "type": "nominal", "scale": {"domain": ["solid", "dashed"], "range": [[1, 0], [12, 7]]}, "legend": null}}},
           {"transform": [{"filter": "datum.series!='Surrogate [128]'"}], "mark": {"type": "point", "shape": "circle", "filled": true, "color": "#000000", "size": 30, "opacity": 1}, "encoding": {}},
           {"transform": [{"filter": "datum.series=='Surrogate [128]'"}], "mark": {"type": "point", "shape": "M0,-1L0.235,-0.324L0.951,-0.309L0.38,0.124L0.588,0.809L0,0.4L-0.588,0.809L-0.38,0.124L-0.951,-0.309L-0.235,-0.324Z", "filled": true, "color": "#FF0000", "size": 90, "opacity": 1}, "encoding": {}}
         ]},
        {"width": 157, "height": 167, "title": "CUB-200", "data": {"name": "acc"},
         "transform": [{"filter": "datum.victim=='128' && datum.dataset=='CUB-200'"}],
         "encoding": {
           "x": {"field": "budget", "type": "ordinal", "scale": {"type": "point", "padding": 0.19}, "axis": {"title": "Query Budget"}}},
         "resolve": {"axis": {"y": "independent"}},
         "layer": [
           {"mark": {"type": "line", "strokeWidth": 2}, "encoding": {
             "y": {"field": "accuracy", "type": "quantitative", "scale": {"domain": [0, 1], "nice": false, "zero": false}, "axis": {"values": [0, 0.5, 1], "format": "~g", "title": null}},
             "color": {"field": "series", "type": "nominal", "scale": {"domain": ["Surrogate [32]", "Surrogate [64]", "Surrogate [128]", "Surrogate [224]"], "range": ["#7E2F8E", "#0072BD", "#C9482C", "#EDB120"]}, "legend": null}, "strokeDash": {"field": "line", "type": "nominal", "scale": {"domain": ["solid", "dashed"], "range": [[1, 0], [12, 7]]}, "legend": null}}},
           {"transform": [{"filter": "datum.series!='Surrogate [128]'"}], "mark": {"type": "point", "shape": "circle", "filled": true, "color": "#000000", "size": 30, "opacity": 1},
            "encoding": {"y": {"field": "accuracy", "type": "quantitative", "scale": {"domain": [0, 1], "nice": false, "zero": false}, "axis": null}}},
           {"transform": [{"filter": "datum.series=='Surrogate [128]'"}], "mark": {"type": "point", "shape": "M0,-1L0.235,-0.324L0.951,-0.309L0.38,0.124L0.588,0.809L0,0.4L-0.588,0.809L-0.38,0.124L-0.951,-0.309L-0.235,-0.324Z", "filled": true, "color": "#FF0000", "size": 90, "opacity": 1},
            "encoding": {"y": {"field": "accuracy", "type": "quantitative", "scale": {"domain": [0, 1], "nice": false, "zero": false}, "axis": {"orient": "right", "labels": false, "domain": false, "grid": false, "ticks": true, "tickSize": 18, "tickOpacity": 0, "title": null}}}}
         ]}
      ]
    },
    {
      "title": {"text": "(c) Victim [224]", "orient": "bottom", "anchor": "middle", "frame": "bounds", "font": "DejaVu Serif", "fontSize": 20, "fontWeight": "normal", "color": "#000000", "offset": 21},
      "spacing": 19,
      "hconcat": [
        {"width": 157, "height": 167, "title": "Indoor67", "data": {"name": "acc"},
         "transform": [{"filter": "datum.victim=='224' && datum.dataset=='Indoor67'"}],
         "encoding": {
           "x": {"field": "budget", "type": "ordinal", "scale": {"type": "point", "padding": 0.19}, "axis": {"title": "Query Budget"}},
           "y": {"field": "accuracy", "type": "quantitative", "scale": {"domain": [0.2, 1], "nice": false, "zero": false}, "axis": {"values": [0.2, 0.4, 0.6, 0.8, 1], "format": "~g", "title": "Surrogate Accuracy"}}},
         "layer": [
           {"mark": {"type": "line", "strokeWidth": 2}, "encoding": {"color": {"field": "series", "type": "nominal", "scale": {"domain": ["Surrogate [32]", "Surrogate [64]", "Surrogate [128]", "Surrogate [224]"], "range": ["#7E2F8E", "#0072BD", "#C9482C", "#EDB120"]}, "legend": null}, "strokeDash": {"field": "line", "type": "nominal", "scale": {"domain": ["solid", "dashed"], "range": [[1, 0], [12, 7]]}, "legend": null}}},
           {"transform": [{"filter": "datum.series!='Surrogate [224]'"}], "mark": {"type": "point", "shape": "circle", "filled": true, "color": "#000000", "size": 30, "opacity": 1}, "encoding": {}},
           {"transform": [{"filter": "datum.series=='Surrogate [224]'"}], "mark": {"type": "point", "shape": "M0,-1L0.235,-0.324L0.951,-0.309L0.38,0.124L0.588,0.809L0,0.4L-0.588,0.809L-0.38,0.124L-0.951,-0.309L-0.235,-0.324Z", "filled": true, "color": "#FF0000", "size": 90, "opacity": 1}, "encoding": {}}
         ]},
        {"width": 157, "height": 167, "title": "Caltech-256", "data": {"name": "acc"},
         "transform": [{"filter": "datum.victim=='224' && datum.dataset=='Caltech-256'"}],
         "encoding": {
           "x": {"field": "budget", "type": "ordinal", "scale": {"type": "point", "padding": 0.19}, "axis": {"title": "Query Budget"}},
           "y": {"field": "accuracy", "type": "quantitative", "scale": {"domain": [0.331, 1], "nice": false, "zero": false}, "axis": {"values": [0.4, 0.6, 0.8, 1], "format": "~g", "title": null}}},
         "layer": [
           {"mark": {"type": "line", "strokeWidth": 2}, "encoding": {"color": {"field": "series", "type": "nominal", "scale": {"domain": ["Surrogate [32]", "Surrogate [64]", "Surrogate [128]", "Surrogate [224]"], "range": ["#7E2F8E", "#0072BD", "#C9482C", "#EDB120"]}, "legend": null}, "strokeDash": {"field": "line", "type": "nominal", "scale": {"domain": ["solid", "dashed"], "range": [[1, 0], [12, 7]]}, "legend": null}}},
           {"transform": [{"filter": "datum.series!='Surrogate [224]'"}], "mark": {"type": "point", "shape": "circle", "filled": true, "color": "#000000", "size": 30, "opacity": 1}, "encoding": {}},
           {"transform": [{"filter": "datum.series=='Surrogate [224]'"}], "mark": {"type": "point", "shape": "M0,-1L0.235,-0.324L0.951,-0.309L0.38,0.124L0.588,0.809L0,0.4L-0.588,0.809L-0.38,0.124L-0.951,-0.309L-0.235,-0.324Z", "filled": true, "color": "#FF0000", "size": 90, "opacity": 1}, "encoding": {}}
         ]},
        {"width": 157, "height": 167, "title": "CUB-200", "data": {"name": "acc"},
         "transform": [{"filter": "datum.victim=='224' && datum.dataset=='CUB-200'"}],
         "encoding": {
           "x": {"field": "budget", "type": "ordinal", "scale": {"type": "point", "padding": 0.19}, "axis": {"title": "Query Budget"}}},
         "resolve": {"axis": {"y": "independent"}},
         "layer": [
           {"mark": {"type": "line", "strokeWidth": 2}, "encoding": {
             "y": {"field": "accuracy", "type": "quantitative", "scale": {"domain": [0, 1], "nice": false, "zero": false}, "axis": {"values": [0, 0.5, 1], "format": "~g", "title": null}},
             "color": {"field": "series", "type": "nominal", "scale": {"domain": ["Surrogate [32]", "Surrogate [64]", "Surrogate [128]", "Surrogate [224]"], "range": ["#7E2F8E", "#0072BD", "#C9482C", "#EDB120"]}, "legend": null}, "strokeDash": {"field": "line", "type": "nominal", "scale": {"domain": ["solid", "dashed"], "range": [[1, 0], [12, 7]]}, "legend": null}}},
           {"transform": [{"filter": "datum.series!='Surrogate [224]'"}], "mark": {"type": "point", "shape": "circle", "filled": true, "color": "#000000", "size": 30, "opacity": 1},
            "encoding": {"y": {"field": "accuracy", "type": "quantitative", "scale": {"domain": [0, 1], "nice": false, "zero": false}, "axis": null}}},
           {"transform": [{"filter": "datum.series=='Surrogate [224]'"}], "mark": {"type": "point", "shape": "M0,-1L0.235,-0.324L0.951,-0.309L0.38,0.124L0.588,0.809L0,0.4L-0.588,0.809L-0.38,0.124L-0.951,-0.309L-0.235,-0.324Z", "filled": true, "color": "#FF0000", "size": 90, "opacity": 1},
            "encoding": {"y": {"field": "accuracy", "type": "quantitative", "scale": {"domain": [0, 1], "nice": false, "zero": false}, "axis": {"orient": "right", "labels": false, "domain": false, "grid": false, "ticks": true, "tickSize": 18, "tickOpacity": 0, "title": null}}}}
         ]}
      ]
    },
    {
      "width": 699, "height": 25,
      "view": {"stroke": "#262626", "strokeWidth": 1},
      "title": {"text": " ", "fontSize": 6, "offset": 0, "frame": "bounds"},
      "data": {"name": "legendItems"},
      "encoding": {
        "x": {"field": "series", "type": "nominal", "sort": null, "scale": {"type": "band", "paddingInner": 0, "paddingOuter": 0}, "axis": null}
      },
      "layer": [
        {"mark": {"type": "point", "shape": "M-1,0H1", "size": 1936, "strokeWidth": 2, "filled": false, "opacity": 1, "xOffset": -59},
         "encoding": {"color": {"field": "series", "type": "nominal", "legend": null}}},
        {"mark": {"type": "point", "shape": "circle", "filled": true, "color": "#000000", "size": 20, "opacity": 1, "xOffset": -59}, "encoding": {}},
        {"mark": {"type": "text", "align": "left", "baseline": "middle", "font": "Liberation Sans", "fontSize": 17, "color": "#000000", "dx": -31},
         "encoding": {"text": {"field": "series"}}}
      ]
    }
  ],
  "spacing": 15,
  "center": true
}
